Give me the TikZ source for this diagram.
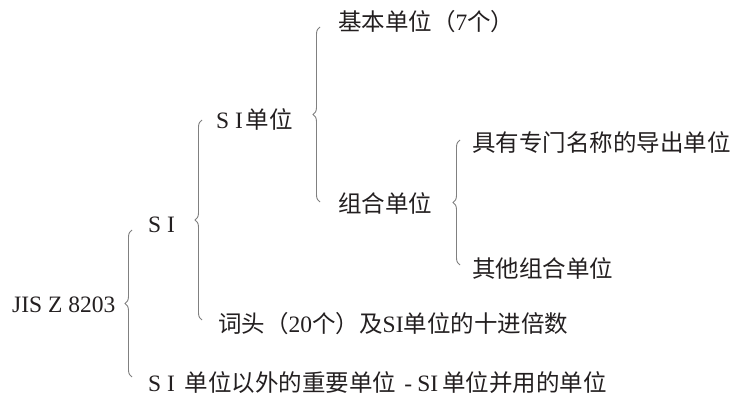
\documentclass[tikz,border=0pt]{standalone}
\usepackage{fontspec}
\setmainfont{Liberation Serif}
\newfontfamily\cjk{Noto Sans CJK SC}[Scale=1.0]
\usetikzlibrary{decorations.pathreplacing}
\definecolor{ink}{HTML}{231F20}
\definecolor{bracecol}{HTML}{808080}
\tikzset{
  lbl/.style={anchor=west, inner sep=0pt, text=ink, font=\fontsize{23.5}{28}\selectfont},
  lbrace/.style={draw=bracecol, line width=0.9pt, decorate, decoration={brace, amplitude=7pt}}
}
\begin{document}
\begin{tikzpicture}[x=1pt, y=-1pt]
\useasboundingbox (0,0) rectangle (732,396);
% labels
\node[lbl] (jis) at (12,305) {JIS Z 8203};
\node[lbl] (si) at (148,225) {S I};
\node[lbl] (siu) at (216,119) {S I\kern3pt{\cjk 单位}};
\node[lbl] (base) at (338,22) {{\cjk 基本单位（}7{\cjk 个）}};
\node[lbl] (comb) at (338,203) {{\cjk 组合单位}};
\node[lbl] (named) at (472,142) {{\cjk 具有专门名称的导出单位}};
\node[lbl] (other) at (472,268) {{\cjk 其他组合单位}};
\node[lbl] (pref) at (218,324) {{\cjk 词头（}20{\cjk 个）及}SI{\cjk 单位的十进倍数}};
\node[lbl] (outs) at (148,383) {S I\kern10pt{\cjk 单位以外的重要单位}\kern8pt-\kern5pt SI\kern4pt{\cjk 单位并用的单位}};
% brace end points
\coordinate (b1t) at (132,230); \coordinate (b1b) at (132,377);
\coordinate (b2t) at (202,120); \coordinate (b2b) at (202,320);
\coordinate (b3t) at (320,27);  \coordinate (b3b) at (320,202);
\coordinate (b4t) at (460,140); \coordinate (b4b) at (460,265);
\draw[lbrace] (b1b) -- (b1t);
\draw[lbrace] (b2b) -- (b2t);
\draw[lbrace] (b3b) -- (b3t);
\draw[lbrace] (b4b) -- (b4t);
\end{tikzpicture}
\end{document}
